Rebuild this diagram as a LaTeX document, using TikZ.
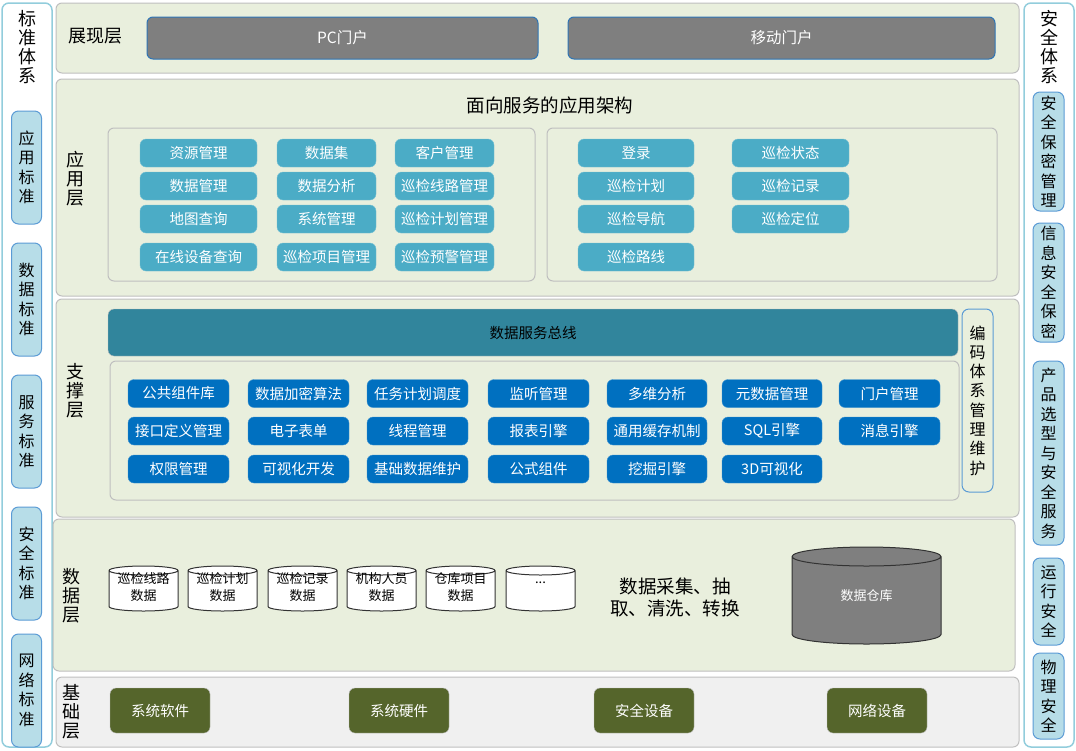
\documentclass[tikz,border=0pt]{standalone}
\usepackage{fontspec}
\setmainfont{Noto Sans CJK SC}
\definecolor{panelgreen}{HTML}{E9EFDD}
\definecolor{panelgrey}{HTML}{F0F0F0}
\definecolor{panelline}{HTML}{BFBFBF}
\definecolor{sideline}{HTML}{92CDDC}
\definecolor{sidefill}{HTML}{B7DDE8}
\definecolor{sideedge}{HTML}{5B9BD5}
\definecolor{portalgrey}{HTML}{7F7F7F}
\definecolor{portaledge}{HTML}{2E75B6}
\definecolor{tealtile}{HTML}{4BACC6}
\definecolor{bustile}{HTML}{31859C}
\definecolor{bluetile}{HTML}{0070C0}
\definecolor{olivetile}{HTML}{55652B}
\tikzset{
  sidepanel/.style={draw=sideline, line width=1.5pt, fill=white, rounded corners=7pt, inner sep=0pt},
  sidetile/.style={draw=sideedge, line width=1pt, fill=sidefill, rounded corners=7pt, inner sep=0pt, align=center, font=\fontsize{16}{19.5}\selectfont},
  layer/.style={draw=panelline, line width=1pt, fill=panelgreen, rounded corners=6pt, inner sep=0pt},
  frame/.style={draw=panelline, line width=1pt, fill=panelgreen, rounded corners=6pt, inner sep=0pt},
  caption/.style={inner sep=0pt, align=center, font=\fontsize{18}{19}\selectfont},
  portal/.style={draw=portaledge, line width=1pt, fill=portalgrey, rounded corners=6pt, text=white, minimum height=42pt, font=\fontsize{15.5}{18}\selectfont},
  tile/.style={rounded corners=6pt, text=white, minimum height=28pt, inner sep=0pt, font=\fontsize{14.5}{17}\selectfont},
  apptile/.style={tile, fill=tealtile, draw=tealtile!75!white},
  basetile/.style={tile, fill=bluetile, draw=bluetile!75!white},
  groundtile/.style={tile, fill=olivetile, draw=panelline, minimum width=100pt, minimum height=45pt},
  drum/.style={draw=black!80, line width=1pt, fill=white},
  drumtext/.style={inner sep=0pt, align=center, font=\fontsize{13}{17}\selectfont}
}

\begin{document}
\begin{tikzpicture}[x=1pt, y=-1pt]
  \useasboundingbox (0,0) rectangle (1076,750);

  \node[sidepanel, minimum width=50pt, minimum height=744pt] (stdpanel) at (27,375) {};
  \node[sidepanel, minimum width=50pt, minimum height=744pt] (secpanel) at (1049,375) {};
  \node[caption] (stdtitle) at (27,47) {标\\准\\体\\系};
  \node[caption] (sectitle) at (1049,47) {安\\全\\体\\系};
  \foreach \name/\y/\h/\txt in {
      appstd/167.5/113/{应\\用\\标\\准},
      datastd/299.5/113/{数\\据\\标\\准},
      svcstd/431.5/113/{服\\务\\标\\准},
      safestd/563.5/113/{安\\全\\标\\准},
      netstd/690.5/113/{网\\络\\标\\准}}
    \node[sidetile, minimum width=30pt, minimum height=\h pt] (\name) at (26.5,\y) {\txt};
  \foreach \name/\y/\h/\txt in {
      secmgmt/151.5/119/{安\\全\\保\\密\\管\\理},
      infosec/282.5/119/{信\\息\\安\\全\\保\\密},
      prodsec/453/184/{产\\品\\选\\型\\与\\安\\全\\服\\务},
      runsec/601.5/87/{运\\行\\安\\全},
      physec/696/86/{物\\理\\安\\全}}
    \node[sidetile, minimum width=31pt, minimum height=\h pt] (\name) at (1048.5,\y) {\txt};

  \node[layer, minimum width=963pt, minimum height=70pt] (showlayer) at (537.5,38) {};
  \node[layer, minimum width=963pt, minimum height=217pt] (applayer) at (537.5,187.5) {};
  \node[layer, minimum width=963pt, minimum height=218pt] (suplayer) at (537.5,408) {};
  \node[layer, minimum width=962pt, minimum height=152pt] (datalayer) at (534,595) {};
  \node[layer, fill=panelgrey, minimum width=963pt, minimum height=70pt] (baselayer) at (537.5,712) {};

  \node[caption] (showlabel) at (95,36) {展现层};
  \node[caption] (applabel) at (75,179) {应\\用\\层};
  \node[caption] (suplabel) at (75,391) {支\\撑\\层};
  \node[caption] (datalabel) at (71,596) {数\\据\\层};
  \node[caption] (baselabel) at (71,712) {基\\础\\层};

  \node[portal, minimum width=391pt] (pcportal) at (342.5,38) {PC门户};
  \node[portal, minimum width=427pt] (mobportal) at (781.5,38) {移动门户};
  \node[caption, font=\fontsize{18.5}{20}\selectfont] (soatitle) at (550,105) {面向服务的应用架构};

  \node[frame, minimum width=427pt, minimum height=153pt] (appframe) at (321.5,204.5) {};
  \node[frame, minimum width=450pt, minimum height=153pt] (mobframe) at (772,204.5) {};
  \foreach \name/\x/\y/\w/\txt in {
      resmgmt/198.5/153/117/资源管理, dataset/326.5/153/99/数据集, custmgmt/444.5/153/99/客户管理,
      datamgmt/198.5/186/117/数据管理, analysis/326.5/186/99/数据分析, routemgmt/444.5/186/99/巡检线路管理,
      mapquery/198.5/219/117/地图查询, sysmgmt/326.5/219/99/系统管理, planmgmt/444.5/219/99/巡检计划管理,
      devquery/198.5/257/117/在线设备查询, itemmgmt/326.5/257/99/巡检项目管理, warnmgmt/444.5/257/99/巡检预警管理,
      login/636/153/116/登录, state/790.5/153/117/巡检状态,
      plan/636/186/116/巡检计划, record/790.5/186/117/巡检记录,
      navi/636/219/116/巡检导航, locate/790.5/219/117/巡检定位,
      route/636/257/116/巡检路线}
    \node[apptile, minimum width=\w pt] (\name) at (\x,\y) {\txt};

  \node[tile, text=black, fill=bustile, draw=panelline, minimum width=850pt, minimum height=47pt] (bus) at (533,332.5) {数据服务总线};
  \node[frame, minimum width=849pt, minimum height=139pt] (supframe) at (534.5,430.5) {};
  \node[frame, draw=sideedge, rounded corners=7pt, minimum width=31pt, minimum height=183pt, align=center, font=\fontsize{16}{19.3}\selectfont] (codemgmt) at (977.5,400.5) {编\\码\\体\\系\\管\\理\\维\\护};
  \foreach \name/\x/\y/\w/\txt in {
      pubcomp/178.5/393.5/101/公共组件库, encrypt/298.5/393.5/101/数据加密算法, sched/417.5/393.5/101/任务计划调度, listen/538.5/393.5/101/监听管理, multidim/657/393.5/100/多维分析, meta/772/393.5/100/元数据管理, portalmgmt/889.5/393.5/101/门户管理,
      api/178.5/431/101/接口定义管理, form/298.5/431/101/电子表单, thread/417.5/431/101/线程管理, report/538.5/431/101/报表引擎, cache/657/431/100/通用缓存机制, sql/772/431/100/SQL引擎, msg/889.5/431/101/消息引擎,
      auth/178.5/469/101/权限管理, visdev/298.5/469/101/可视化开发, basedata/417.5/469/101/基础数据维护, formula/538.5/469/101/公式组件, mining/657/469/100/挖掘引擎, threed/772/469/100/3D可视化}
    \node[basetile, minimum width=\w pt] (\name) at (\x,\y) {\txt};

  \foreach \name/\x/\ty/\txt in {
      routedata/143.5/587.5/{巡检线路\\数据}, plandata/222.5/587.5/{巡检计划\\数据}, recdata/302.5/587.5/{巡检记录\\数据},
      orgdata/381.5/587.5/{机构人员\\数据}, storedata/460.5/587.5/{仓库项目\\数据}, moredata/540.5/583/{...}} {
    \draw[drum] (\x-34.5,570.5) -- (\x-34.5,606.5) arc (180:360:34.5pt and 4.5pt) -- (\x+34.5,570.5) arc (0:180:34.5pt and 4.5pt) -- cycle
      (\x-34.5,570.5) arc (180:360:34.5pt and 4.5pt);
    \node[drumtext] (\name) at (\x,\ty) {\txt};
  }
  \node[caption, font=\fontsize{18.5}{22}\selectfont] (etl) at (675,597) {数据采集、抽\\取、清洗、转换};
  \draw[drum, fill=portalgrey] (792,556.5) -- (792,634.5) arc (180:360:74.5pt and 9.5pt) -- (941,556.5) arc (0:180:74.5pt and 9.5pt) -- cycle
    (792,556.5) arc (180:360:74.5pt and 9.5pt);
  \node[drumtext, text=white] (warehouse) at (866.5,595.5) {数据仓库};

  \foreach \name/\x/\txt in {software/160/系统软件, hardware/399/系统硬件, secdevice/644/安全设备, netdevice/877/网络设备}
    \node[groundtile] (\name) at (\x,710.5) {\txt};
\end{tikzpicture}
\end{document}
